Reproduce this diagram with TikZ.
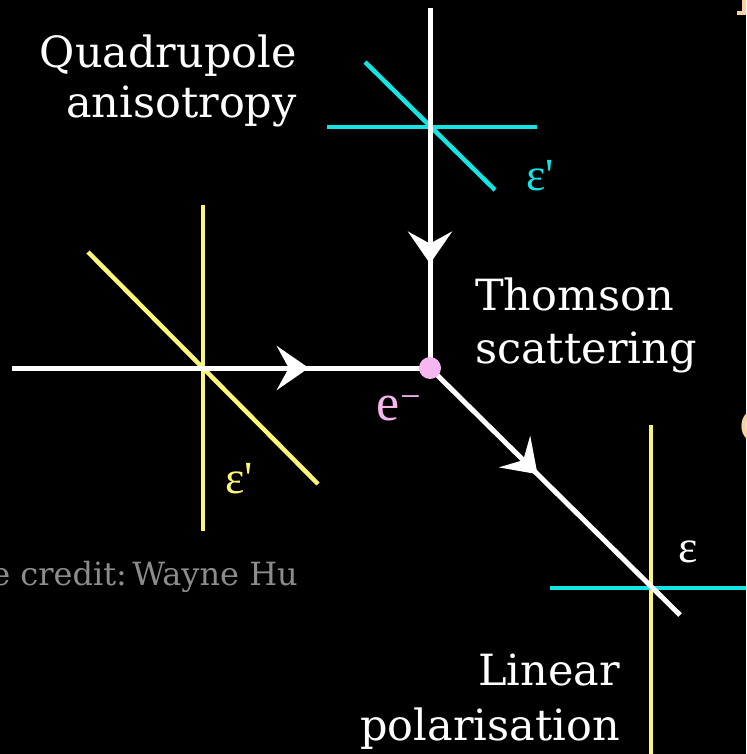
\documentclass[tikz,border=0pt]{standalone}
\usepackage{fontspec}
\usetikzlibrary{arrows.meta,decorations.markings}
\newfontfamily\labfont{DejaVu Serif}
\newfontfamily\grkfont{Liberation Serif}
\definecolor{wcyan}{RGB}{20,228,228}
\definecolor{wyellow}{RGB}{252,246,120}
\definecolor{wpink}{RGB}{246,182,240}
\definecolor{wgray}{RGB}{140,140,140}
\definecolor{worange}{RGB}{250,208,165}
\tikzset{
  wline/.style={white,line width=5pt},
  cline/.style={wcyan,line width=4.5pt},
  yline/.style={wyellow,line width=4.5pt},
  midarrow/.style={postaction={decorate},decoration={markings,
     mark=at position #1 with {\arrow[white]{Stealth[length=32pt,width=44pt,inset=12pt]}}}},
  lab/.style={white,inner sep=0pt,font=\labfont\fontsize{43}{48}\selectfont},
  grk/.style={inner sep=0pt,font=\grkfont\fontsize{46}{50}\selectfont},
}
\begin{document}
\begin{tikzpicture}[x=1pt,y=-1pt]
\useasboundingbox (0,0) rectangle (746,754);
\fill[black] (0,0) rectangle (746,754);
\clip (0,0) rectangle (746,754);

% named points
\coordinate (inL) at (12,368);
\coordinate (topS) at (430,8);
\coordinate (e) at (430,368);
\coordinate (outE) at (680,615);

% crosses
\draw[cline] (327,127) -- (537,127);
\draw[cline] (365,62) -- (495,190);
\draw[yline] (203,205) -- (203,531);
\draw[yline] (88,252) -- (318,484);
\draw[yline] (651,425) -- (651,760);
\draw[cline] (550,588) -- (760,588);

% rays
\draw[wline,midarrow=0.71] (inL) -- (e);
\draw[wline,midarrow=0.71] (topS) -- (e);
\draw[wline,midarrow=0.43] (e) -- (outE);
\node[circle,fill=wpink,minimum size=22pt,inner sep=0pt] (dot) at (e) {};

% labels
\node[lab,anchor=base east] (q1) at (297,68) {Quadrupole};
\node[lab,anchor=base east] (q2) at (297,118) {anisotropy};
\node[lab,anchor=base west] (t1) at (475,310) {Thomson};
\node[lab,anchor=base west] (t2) at (475,363) {scattering};
\node[lab,anchor=base east] (l1) at (620,685) {Linear};
\node[lab,anchor=base east] (l2) at (620,740) {polarisation};

\node[grk,wcyan,anchor=base west] (ec) at (526,190) {ε'};
\node[grk,wyellow,anchor=base west] (ey) at (225,493) {ε'};
\node[grk,white,anchor=base west] (ew) at (678,562) {ε};
\node[grk,wpink,anchor=base west,font=\grkfont\fontsize{52}{56}\selectfont] (em) at (376,420) {e\kern1pt\raisebox{12pt}{\fontsize{36}{36}\selectfont −}};

\node[wgray,inner sep=0pt,anchor=base east,font=\labfont\fontsize{32}{36}\selectfont] (cr) at (298,585) {Image credit:\,Wayne Hu};

% cut-off fragments at the right edge
\node[worange,inner sep=0pt,anchor=base west,font=\labfont\fontsize{44}{48}\selectfont] (frag) at (739,442) {C};
\draw[worange,line width=4pt] (744,0) -- (744,13) -- (737,13);
\end{tikzpicture}
\end{document}
